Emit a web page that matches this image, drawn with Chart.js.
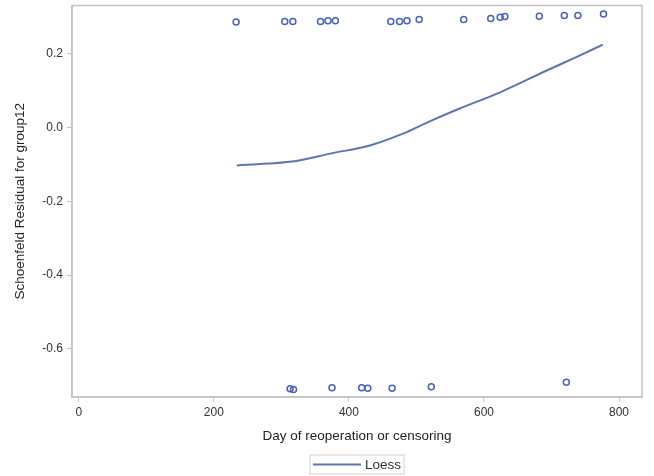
<!DOCTYPE html>
<html>
<head>
<meta charset="utf-8">
<script src="https://cdn.jsdelivr.net/npm/chart.js@4"></script>
<style>
  html, body { margin: 0; padding: 0; background: #fff; }
  #wrap { width: 654px; height: 476px; position: relative; }
</style>
</head>
<body>
<div id="wrap"><canvas id="myChart"></canvas></div>
<script>
// residuos arriba / abajo y curva loess
var topDays = [233, 305, 317, 358, 369, 380, 462, 475, 486, 504, 570, 610, 624, 631, 682, 719, 739, 777];
var topResid = [0.285, 0.287, 0.287, 0.287, 0.289, 0.289, 0.287, 0.287, 0.289, 0.292, 0.292, 0.295, 0.298, 0.300, 0.301, 0.303, 0.303, 0.307];
var bottomDays = [313, 318, 375, 419, 428, 464, 522, 722];
var bottomResid = [-0.708, -0.710, -0.705, -0.705, -0.706, -0.706, -0.702, -0.690];
var loessDays = [234, 280, 322, 372, 431, 480, 518, 564, 624, 693, 735, 776];
var loessResid = [-0.103, -0.098, -0.091, -0.071, -0.049, -0.017, 0.015, 0.051, 0.095, 0.154, 0.189, 0.224];
var xTicks = [0, 200, 400, 600, 800];
var yTicks = [-0.6, -0.4, -0.2, 0.0, 0.2];

var puntos = topDays.map(function (d, i) { return { x: d, y: topResid[i] }; })
    .concat(bottomDays.map(function (d, i) { return { x: d, y: bottomResid[i] }; }));
var loess = loessDays.map(function (d, i) { return { x: d, y: loessResid[i] }; });

var lineColor = '#5a78ad';
var frameColor = '#c4c4c4';
var fuente = '"Liberation Sans", Arial, sans-serif';

var marco = {
    id: 'marco',
    afterDraw: function (chart) {
        var ctx = chart.ctx;
        var a = chart.chartArea;
        ctx.save();
        ctx.strokeStyle = frameColor;
        ctx.lineWidth = 1.5;
        ctx.strokeRect(a.left, a.top, a.right - a.left, a.bottom - a.top);

        // leyenda
        ctx.font = '13.5px ' + fuente;
        var txt = 'Loess';
        var tw = ctx.measureText(txt).width;
        var lineLen = 48, gap = 4, pad = 3;
        var w = pad + lineLen + gap + tw + pad;
        var cx = (a.left + a.right) / 2;
        var x0 = cx - w / 2, y0 = 455, h = 19;
        ctx.strokeStyle = '#cfcfcf';
        ctx.lineWidth = 1;
        ctx.strokeRect(x0, y0, w, h);
        ctx.strokeStyle = lineColor;
        ctx.lineWidth = 2;
        ctx.beginPath();
        ctx.moveTo(x0 + pad, y0 + h / 2);
        ctx.lineTo(x0 + pad + lineLen, y0 + h / 2);
        ctx.stroke();
        ctx.fillStyle = '#333';
        ctx.textBaseline = 'middle';
        ctx.fillText(txt, x0 + pad + lineLen + gap, y0 + h / 2 + 1);
        ctx.restore();
    }
};

var ctx = document.getElementById('myChart').getContext('2d');
new Chart(ctx, {
    type: 'scatter',
    data: {
        datasets: [
            {
                label: 'Residuals',
                data: puntos,
                pointStyle: 'circle',
                pointRadius: 3,
                pointBorderWidth: 1.5,
                pointBorderColor: '#4662bd',
                pointBackgroundColor: 'rgba(0,0,0,0)',
                showLine: false
            },
            {
                label: 'Loess',
                data: loess,
                showLine: true,
                borderColor: lineColor,
                borderWidth: 2,
                pointRadius: 0,
                cubicInterpolationMode: 'monotone',
                fill: false
            }
        ]
    },
    options: {
        responsive: true,
        maintainAspectRatio: false,
        animation: false,
        layout: { padding: { top: 5, right: 12, bottom: 0, left: 0 } },
        plugins: {
            legend: { display: false },
            tooltip: { enabled: false }
        },
        scales: {
            x: {
                type: 'linear',
                min: -10,
                max: 834,
                afterBuildTicks: function (axis) {
                    axis.ticks = xTicks.map(function (v) { return { value: v }; });
                },
                afterFit: function (axis) {
                    axis.height = 79;
                    axis.paddingLeft = 0;
                    axis.paddingRight = 0;
                },
                ticks: {
                    color: '#333',
                    padding: 3,
                    maxRotation: 0,
                    font: { family: fuente, size: 12 }
                },
                grid: {
                    drawOnChartArea: false,
                    drawTicks: true,
                    tickLength: 5,
                    color: frameColor
                },
                border: { display: true, color: frameColor, width: 1.5 },
                title: {
                    display: true,
                    text: 'Day of reoperation or censoring',
                    color: '#222',
                    padding: { top: 0, bottom: 32 },
                    font: { family: fuente, size: 13.5 }
                }
            },
            y: {
                type: 'linear',
                min: -0.73,
                max: 0.33,
                afterBuildTicks: function (axis) {
                    axis.ticks = yTicks.map(function (v) { return { value: v }; });
                },
                afterFit: function (axis) {
                    axis.width = 72;
                    axis.paddingTop = 0;
                    axis.paddingBottom = 0;
                },
                ticks: {
                    color: '#333',
                    padding: 4,
                    font: { family: fuente, size: 12 },
                    callback: function (v) { return Number(v).toFixed(1); }
                },
                grid: {
                    drawOnChartArea: false,
                    drawTicks: true,
                    tickLength: 5,
                    color: frameColor
                },
                border: { display: true, color: frameColor, width: 1.5 },
                title: {
                    display: true,
                    text: 'Schoenfeld Residual for group12',
                    color: '#222',
                    padding: { top: 12.5, bottom: 0 },
                    font: { family: fuente, size: 13.5 }
                }
            }
        }
    },
    plugins: [marco]
});
</script>
</body>
</html>
